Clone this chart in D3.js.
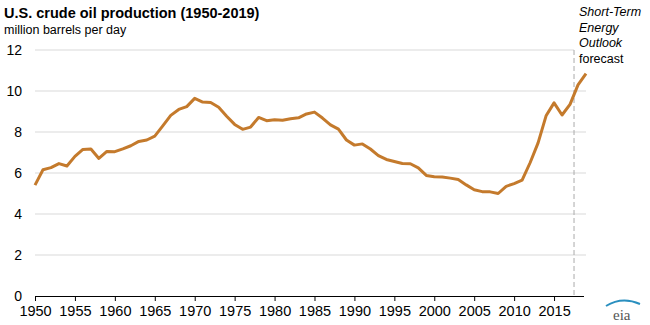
<!DOCTYPE html>
<html><head><meta charset="utf-8">
<script src="https://cdn.jsdelivr.net/npm/d3@7"></script>
<style>
body{margin:0;background:#fff;}
svg{font-family:"Liberation Sans",Arial,sans-serif;}
</style></head>
<body><svg id="c" width="650" height="325"></svg>
<script>
const years = d3.range(1950, 2020);
const production = [5.41,6.16,6.26,6.46,6.34,6.81,7.15,7.17,6.71,7.05,
7.04,7.18,7.33,7.54,7.61,7.80,8.30,8.81,9.10,9.24,
9.64,9.46,9.44,9.21,8.77,8.37,8.13,8.24,8.71,8.55,
8.60,8.57,8.65,8.69,8.88,8.97,8.68,8.35,8.14,7.61,
7.36,7.42,7.17,6.85,6.66,6.56,6.46,6.45,6.25,5.88,
5.82,5.80,5.75,5.68,5.42,5.18,5.09,5.08,5.00,5.35,
5.48,5.65,6.50,7.47,8.79,9.42,8.83,9.35,10.30,10.85];
const yTicks = [0,2,4,6,8,10,12];
const xTicks = d3.range(1950, 2020, 5);
const forecastStart = 2017.5;
const title = "U.S. crude oil production (1950-2019)";
const subtitle = "million barrels per day";
const noteLines = ["Short-Term","Energy","Outlook","forecast"];

const svg = d3.select("#c");
const x = d3.scaleLinear().domain([1950, 2019]).range([35, 586]);
const y = d3.scaleLinear().domain([0, 12]).range([296, 50]);

svg.append("text").attr("x",4).attr("y",18).attr("font-size",14.5).attr("font-weight","bold").attr("fill","#000").text(title);
svg.append("text").attr("x",4).attr("y",34).attr("font-size",12.5).attr("fill","#000").text(subtitle);

// gridlines
svg.append("g").selectAll("line").data(yTicks.filter(d=>d>0)).join("line")
  .attr("x1",35).attr("x2",d=>d===12? x(forecastStart): 586)
  .attr("y1",d=>y(d)).attr("y2",d=>y(d))
  .attr("stroke","#d9d9d9").attr("stroke-width",1);

// y labels
svg.append("g").selectAll("text").data(yTicks).join("text")
  .attr("x",22).attr("y",d=>y(d)+5).attr("text-anchor","end")
  .attr("font-size",14).attr("fill","#000").text(d=>d);

// forecast dashed line
svg.append("line").attr("x1",x(forecastStart)).attr("x2",x(forecastStart))
  .attr("y1",50).attr("y2",296).attr("stroke","#aaa").attr("stroke-width",1).attr("stroke-dasharray","5,3");

// x axis
const xAxis = d3.axisBottom(x).tickValues(xTicks).tickFormat(d3.format("d")).tickSize(5).tickPadding(5);
const gx = svg.append("g").attr("transform","translate(0,296)").call(xAxis);
gx.select(".domain").attr("d","M35.5,0.5H584").attr("stroke","#000");
gx.selectAll(".tick line").attr("stroke","#000");
gx.selectAll(".tick text").attr("font-size",14.5).attr("fill","#000").attr("font-family","Liberation Sans, Arial, sans-serif");

// line
svg.append("path").datum(years.map((yr,i)=>[yr,production[i]]))
  .attr("fill","none").attr("stroke","#c47a2c").attr("stroke-width",3)
  .attr("stroke-linejoin","round")
  .attr("d", d3.line().x(d=>x(d[0])).y(d=>y(d[1])));

// annotation
svg.append("g").selectAll("text").data(noteLines).join("text")
  .attr("x",579).attr("y",(d,i)=>16+i*15.7).attr("font-size",12.5)
  .attr("font-style",(d,i)=>i<3?"italic":"normal").attr("fill","#000").text(d=>d);

// eia mark
svg.append("text").attr("x",613).attr("y",320).attr("font-size",15).attr("fill","#555").attr("font-family","Liberation Serif, serif").text("eia");
svg.append("path").attr("d","M606,306 Q622,296 640,304").attr("fill","none").attr("stroke","#2a8fbf").attr("stroke-width",2);
</script></body></html>
